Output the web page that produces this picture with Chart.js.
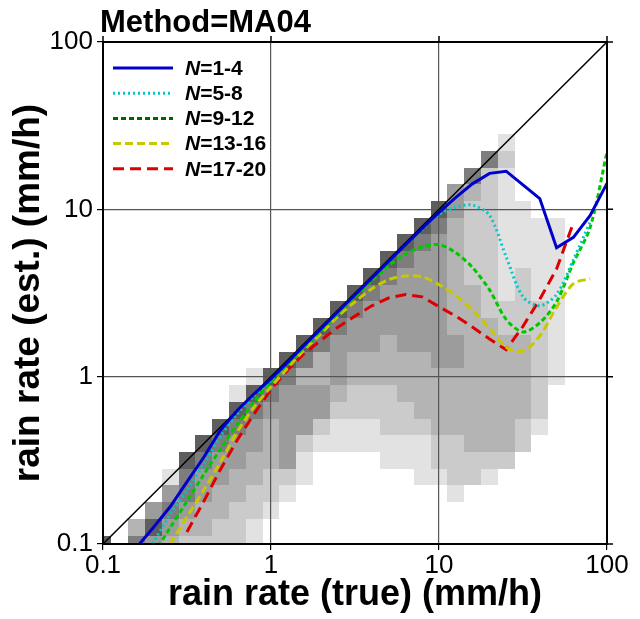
<!DOCTYPE html>
<html>
<head>
<meta charset="UTF-8">
<title>Method=MA04</title>
<style>
  body { margin: 0; background: #fff; }
  .wrap { width: 640px; height: 619px; position: relative; }
</style>
</head>
<body>
<div class="wrap"><canvas id="chart"></canvas></div>

<script src="https://cdn.jsdelivr.net/npm/chart.js@4"></script>
<script>
  // ==== data ====
  // bin centres (mm/h), also used as x positions of the curves
  const rainTrue = [0.1, 0.126, 0.158, 0.2, 0.251, 0.316, 0.398, 0.501, 0.631, 0.794,
    1, 1.26, 1.58, 2, 2.51, 3.16, 3.98, 5.01, 6.31, 7.94,
    10, 12.6, 15.8, 20, 25.1, 31.6, 39.8, 50.1, 63.1, 79.4, 100];

  const estN1_4 = [null, null, 0.095, 0.126, 0.167, 0.235, 0.33, 0.48, 0.63, 0.79,
    0.97, 1.22, 1.54, 1.95, 2.45, 3.08, 3.88, 4.88, 6.12, 7.7,
    9.6, 11.8, 14.2, 16.4, 16.9, 14.0, 11.6, 5.9, 6.8, 9.2, 14.3];
  const estN5_8 = [null, null, 0.071, 0.103, 0.15, 0.21, 0.3, 0.44, 0.6, 0.77,
    0.95, 1.21, 1.53, 1.94, 2.44, 3.07, 3.86, 4.85, 6.1, 7.6,
    9.3, 10.3, 10.6, 9.2, 5.2, 3.0, 2.65, 3.1, 5.0, 8.4, null];
  const estN9_12 = [null, null, null, 0.088, 0.125, 0.18, 0.26, 0.37, 0.52, 0.71,
    0.93, 1.2, 1.5, 1.9, 2.4, 3.0, 3.75, 4.6, 5.4, 5.95,
    6.15, 5.5, 4.5, 3.3, 2.2, 1.85, 2.1, 2.8, 4.8, 7.8, 22];
  const estN13_16 = [null, null, null, null, 0.1, 0.145, 0.21, 0.31, 0.47, 0.66,
    0.87, 1.13, 1.45, 1.82, 2.3, 2.8, 3.35, 3.8, 4.0, 3.95,
    3.55, 3.05, 2.5, 1.95, 1.5, 1.42, 1.75, 2.6, 3.6, 3.85, null];
  const estN17_20 = [null, null, null, null, null, 0.118, 0.18, 0.28, 0.42, 0.6,
    0.84, 1.1, 1.38, 1.66, 1.98, 2.3, 2.65, 2.95, 3.1, 3.0,
    2.62, 2.3, 1.98, 1.68, 1.45, 2.0, 2.9, 4.4, 8.3, null, null];

  const seriesNames = ['1-4', '5-8', '9-12', '13-16', '17-20'];
  const axisTicks = [0.1, 1, 10, 100];

  // 2-D histogram of (true, est.) counts, shade class 0..6
  // one string per est. bin, top row = 100 mm/h, one char per true bin (same centres as rainTrue)
  const histRows = [
    '0000000000000000000000000000000',
    '0000000000000000000000000000000',
    '0000000000000000000000000000000',
    '0000000000000000000000000000000',
    '0000000000000000000000000000000',
    '0000000000000000000000000000000',
    '0000000000000000000000001000000',
    '0000000000000000000000052000000',
    '0000000000000000000000521000000',
    '0000000000000000000004321000000',
    '0000000000000000000064221100000',
    '0000000000000000000653221111000',
    '0000000000000000006543221111000',
    '0000000000000000065443221111000',
    '0000000000000000654443221211000',
    '0000000000000006544443321211000',
    '0000000000000065444443322221000',
    '0000000000000654444443332221000',
    '0000000000006544434444333321000',
    '0000000000065343333344333321000',
    '0000000001653343333333333321000',
    '0000000016544432223333333320000',
    '0000000065444422222333333320000',
    '0000000654344211122233333210000',
    '0000006544342111111122333200000',
    '0000065443341000011122222000000',
    '0000154433221000000112210000000',
    '0000454332210000000001000000000',
    '0004543322100000000000000000000',
    '0036433221000000000000000000000',
    '6054322221000000000000000000000'
  ];
  const histShades = [null, '#e2e2e2', '#cbcbcb', '#b4b4b4', '#9c9c9c', '#7d7d7d', '#5e5e5e'];

  // ==== styles ====
  const FONT = "'Liberation Sans', Arial, Helvetica, sans-serif";
  const lineStyles = [
    { color: '#0000cc', legend: '#0000cc', dash: [], tension: 0 },
    { color: '#00c8c8', legend: '#00c8c8', dash: [2, 3], tension: 0.3 },
    { color: '#00c800', legend: '#006400', dash: [5, 3], tension: 0.3 },
    { color: '#c8c800', legend: '#c8c800', dash: [8, 4], tension: 0.3 },
    { color: '#dd0000', legend: '#dd0000', dash: [11, 6], tension: 0 }
  ];
  const seriesValues = [estN1_4, estN5_8, estN9_12, estN13_16, estN17_20];

  const toPoints = vals => rainTrue.map((x, k) => ({ x: x, y: vals[k] }));

  const datasets = seriesValues.map((vals, k) => ({
    label: 'N=' + seriesNames[k],
    nLabel: seriesNames[k],
    legendColor: lineStyles[k].legend,
    data: toPoints(vals),
    borderColor: lineStyles[k].color,
    borderDash: lineStyles[k].dash,
    borderWidth: 3,
    tension: lineStyles[k].tension,
    pointRadius: 0,
    fill: false
  }));
  // 1:1 line, drawn first (under the curves)
  datasets.push({
    label: '1:1',
    data: [{ x: axisTicks[0], y: axisTicks[0] }, { x: axisTicks[3], y: axisTicks[3] }],
    borderColor: '#000',
    borderWidth: 1.5,
    pointRadius: 0,
    fill: false
  });

  // ==== plugins ====
  // histogram cells, under the grid
  const histPlugin = {
    id: 'hist',
    beforeDraw(chart) {
      const { ctx, chartArea: a, scales: { x, y } } = chart;
      const n = rainTrue.length;
      const edges = [rainTrue[0] / Math.pow(10, 0.05)];
      for (let k = 1; k < n; k++) edges.push(Math.sqrt(rainTrue[k - 1] * rainTrue[k]));
      edges.push(rainTrue[n - 1] * Math.pow(10, 0.05));
      ctx.save();
      ctx.fillStyle = '#fff';
      ctx.fillRect(0, 0, chart.width, chart.height);
      ctx.beginPath();
      ctx.rect(a.left, a.top, a.right - a.left, a.bottom - a.top);
      ctx.clip();
      histRows.forEach((row, r) => {
        const j = n - 1 - r;
        const y0 = Math.round(y.getPixelForValue(edges[j + 1]));
        const y1 = Math.round(y.getPixelForValue(edges[j]));
        for (let i = 0; i < row.length; i++) {
          const lvl = +row[i];
          if (!lvl) continue;
          const x0 = Math.round(x.getPixelForValue(edges[i]));
          const x1 = Math.round(x.getPixelForValue(edges[i + 1]));
          ctx.fillStyle = histShades[lvl];
          ctx.fillRect(x0, y0, x1 - x0, y1 - y0);
        }
      });
      ctx.restore();
    }
  };

  // frame, outer ticks on top/right, title and legend
  const framePlugin = {
    id: 'frame',
    afterDatasetsDraw(chart) {
      const { ctx, chartArea: a, scales: { x, y } } = chart;
      ctx.save();
      ctx.strokeStyle = '#000';
      ctx.lineWidth = 2;
      ctx.strokeRect(a.left, a.top, a.right - a.left, a.bottom - a.top);
      ctx.lineWidth = 1.5;
      ctx.beginPath();
      axisTicks.forEach(v => {
        const px = x.getPixelForValue(v);
        ctx.moveTo(px, a.top); ctx.lineTo(px, a.top - 6);
        const py = y.getPixelForValue(v);
        ctx.moveTo(a.right, py); ctx.lineTo(a.right + 6, py);
      });
      ctx.stroke();

      // title
      ctx.fillStyle = '#000';
      ctx.textBaseline = 'alphabetic';
      ctx.textAlign = 'left';
      ctx.font = 'bold 31px ' + FONT;
      ctx.fillText('Method=MA04', 100, 32);

      // legend
      let k = 0;
      chart.data.datasets.forEach(ds => {
        if (!ds.nLabel) return;
        const ly = a.top + 26 + 25.2 * k;
        ctx.strokeStyle = ds.legendColor;
        ctx.lineWidth = 3;
        ctx.setLineDash(ds.borderDash || []);
        ctx.beginPath();
        ctx.moveTo(a.left + 10, ly);
        ctx.lineTo(a.left + 70, ly);
        ctx.stroke();
        ctx.setLineDash([]);
        ctx.textBaseline = 'middle';
        ctx.font = 'italic bold 21px ' + FONT;
        ctx.fillText('N', a.left + 82, ly + 1);
        const w = ctx.measureText('N').width;
        ctx.font = 'bold 21px ' + FONT;
        ctx.fillText('=' + ds.nLabel, a.left + 82 + w, ly + 1);
        k++;
      });
      ctx.restore();
    }
  };

  const logAxis = (title, isX) => ({
    type: 'logarithmic',
    min: axisTicks[0],
    max: axisTicks[3],
    afterBuildTicks: s => { s.ticks = axisTicks.map(v => ({ value: v })); },
    afterFit: s => { if (isX) s.height = 75; else s.width = 103; },
    ticks: {
      callback: v => String(v),
      autoSkip: false,
      maxRotation: 0,
      color: '#000',
      padding: isX ? 0 : 4,
      font: { family: FONT, size: 26 }
    },
    grid: { color: '#555', lineWidth: 1.2, tickLength: 6, tickColor: '#000' },
    border: { color: '#000', width: 2 },
    title: {
      display: true,
      text: title,
      color: '#000',
      font: { family: FONT, size: isX ? 36 : 37, weight: 'bold' },
      padding: isX ? { top: 0, bottom: 2 } : { top: 7, bottom: 0 }
    }
  });

  new Chart(document.getElementById('chart'), {
    type: 'line',
    data: { datasets: datasets },
    options: {
      responsive: true,
      maintainAspectRatio: false,
      animation: false,
      devicePixelRatio: 1,
      layout: { padding: { left: 0, right: 33, top: 42, bottom: 0 } },
      plugins: {
        legend: { display: false },
        tooltip: { enabled: false }
      },
      scales: {
        x: logAxis('rain rate (true) (mm/h)', true),
        y: logAxis('rain rate (est.) (mm/h)', false)
      }
    },
    plugins: [histPlugin, framePlugin]
  });
</script>
</body>
</html>
